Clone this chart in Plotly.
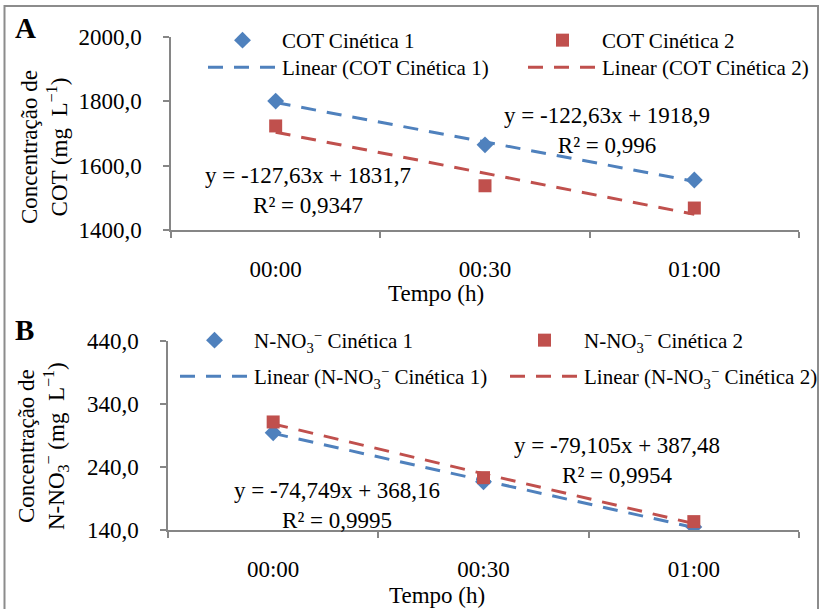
import plotly.graph_objects as go

# Sampling times (categories on the x axis)
tempos = ["00:00", "00:30", "01:00"]

# Panel A: total organic carbon (COT), mg L-1
cot_cin1 = [1800.8, 1664.7, 1555.5]
cot_cin2 = [1723.5, 1537.5, 1468.3]
# Linear trend y = a*x + b (x = 1, 2, 3) with R²
cot_fit1 = {"a": -122.63, "b": 1918.9, "r2": "0,996"}
cot_fit2 = {"a": -127.63, "b": 1831.7, "r2": "0,9347"}
cot_ticks = [1400, 1600, 1800, 2000]

# Panel B: nitrate nitrogen (N-NO3-), mg L-1
no3_cin1 = [294.4, 216.7, 144.9]
no3_cin2 = [311.5, 223.1, 153.3]
no3_fit1 = {"a": -74.749, "b": 368.16, "r2": "0,9995"}
no3_fit2 = {"a": -79.105, "b": 387.48, "r2": "0,9954"}
no3_ticks = [140, 240, 340, 440]

W, H = 820, 609
BLUE = "#4F81BD"
RED = "#C0504D"
AXIS = "#868686"
FONT = "Liberation Serif"
DASH = "15px,11px"


def px(x):
    return x / W


def py(y):
    return 1 - y / H


def trend(fit):
    return [fit["a"] * (i + 1) + fit["b"] for i in range(len(tempos))]


def fmt(v, nd):
    return f"{abs(v):.{nd}f}".replace(".", ",")


def eq_text(fit, nda, ndb):
    return (f"y = -{fmt(fit['a'], nda)}x + {fmt(fit['b'], ndb)}<br>"
            f"R² = {fit['r2']}")


fig = go.Figure()

NO3 = "N-NO<sub>3</sub><sup>−</sup>"

# Each legend entry gets its own legend box: (left x, top y) in pixels
panels = [
    dict(xa="x", ya="y", c1=cot_cin1, c2=cot_cin2, f1=cot_fit1, f2=cot_fit2,
         n1="COT Cinética 1", n2="COT Cinética 2",
         lg=dict(m1=("legend", 203, 20), m2=("legend2", 523, 20),
                 l1=("legend3", 203, 47), l2=("legend4", 523, 47))),
    dict(xa="x2", ya="y2", c1=no3_cin1, c2=no3_cin2, f1=no3_fit1, f2=no3_fit2,
         n1=f"{NO3} Cinética 1", n2=f"{NO3} Cinética 2",
         lg=dict(m1=("legend5", 175, 320), m2=("legend6", 505, 320),
                 l1=("legend7", 175, 356), l2=("legend8", 505, 356))),
]

# Trend lines first so the markers sit on top of them
for p in panels:
    for key, nm, col, lk in (("f1", "n1", BLUE, "l1"), ("f2", "n2", RED, "l2")):
        fig.add_trace(go.Scatter(
            x=tempos, y=trend(p[key]), mode="lines", name=f"Linear ({p[nm]})",
            line=dict(color=col, width=3, dash=DASH),
            xaxis=p["xa"], yaxis=p["ya"], legend=p["lg"][lk][0]))
for p in panels:
    fig.add_trace(go.Scatter(
        x=tempos, y=p["c1"], mode="markers", name=p["n1"],
        marker=dict(symbol="diamond", size=13, color=BLUE),
        xaxis=p["xa"], yaxis=p["ya"], legend=p["lg"]["m1"][0]))
    fig.add_trace(go.Scatter(
        x=tempos, y=p["c2"], mode="markers", name=p["n2"],
        marker=dict(symbol="square", size=13, color=RED),
        xaxis=p["xa"], yaxis=p["ya"], legend=p["lg"]["m2"][0]))

tickfont = dict(family=FONT, size=23, color="black")
xcommon = dict(type="category", range=[-0.5, 2.5], showline=True, linecolor=AXIS, linewidth=1.5,
               ticks="outside", tickson="boundaries", ticklen=6, tickcolor=AXIS, tickwidth=1.5,
               showgrid=False, zeroline=False, tickfont=tickfont, ticklabelstandoff=18,
               fixedrange=True, automargin=False)
ycommon = dict(showline=True, linecolor=AXIS, linewidth=1.5, ticks="outside", ticklen=6,
               tickcolor=AXIS, tickwidth=1.5, showgrid=False, zeroline=False,
               tickfont=tickfont, tickformat=".1f", ticklabelstandoff=17, fixedrange=True,
               automargin=False)

legend_common = dict(font=dict(family=FONT, size=21, color="black"), bgcolor="rgba(0,0,0,0)",
                     xref="paper", yref="paper", xanchor="left", yanchor="top",
                     itemwidth=69, itemclick=False, itemdoubleclick=False)

legends = {}
for p in panels:
    for name, lx, ly in p["lg"].values():
        legends[name] = dict(legend_common, x=px(lx), y=py(ly))

fig.update_layout(
    width=W, height=H, margin=dict(l=0, r=0, t=0, b=0, autoexpand=False),
    paper_bgcolor="white", plot_bgcolor="white",
    separators=",.",
    font=dict(family=FONT, size=23, color="black"),
    xaxis=dict(xcommon, domain=[px(171), px(799)], anchor="y"),
    yaxis=dict(ycommon, domain=[py(230), py(37)], range=[1400, 2000],
               tickvals=cot_ticks, anchor="x"),
    xaxis2=dict(xcommon, domain=[px(168), px(799)], anchor="y2"),
    yaxis2=dict(ycommon, domain=[py(530), py(341)], range=[140, 440],
                tickvals=no3_ticks, anchor="x2"),
    showlegend=True,
    **legends,
)

ann = []
# Panel letters
ann.append(dict(text="<b>A</b>", x=px(25), y=py(28), font=dict(size=29)))
ann.append(dict(text="<b>B</b>", x=px(24), y=py(330), font=dict(size=29)))
# Axis titles
ann.append(dict(text="Concentração de<br>COT (mg  L<sup>−1</sup>)", x=px(44), y=py(147),
                textangle=-90))
ann.append(dict(text=f"Concentração de<br>{NO3} (mg  L<sup>−1</sup>)", x=px(43), y=py(446),
                textangle=-90))
ann.append(dict(text="Tempo (h)", x=px(436), y=py(293)))
ann.append(dict(text="Tempo (h)", x=px(437), y=py(595)))
# Regression equations
ann.append(dict(text=eq_text(cot_fit1, 2, 1), x=px(607), y=py(131)))
ann.append(dict(text=eq_text(cot_fit2, 2, 1), x=px(308), y=py(190)))
ann.append(dict(text=eq_text(no3_fit1, 3, 2), x=px(337), y=py(505)))
ann.append(dict(text=eq_text(no3_fit2, 3, 2), x=px(617), y=py(460)))

for a in ann:
    a.setdefault("font", {})
    a["font"] = dict(dict(family=FONT, size=23, color="black"), **a["font"])
    fig.add_annotation(xref="paper", yref="paper", showarrow=False,
                       xanchor="center", yanchor="middle", align="center", **a)

# Frame around the figure
fig.add_shape(type="rect", xref="paper", yref="paper",
              x0=px(4.5), x1=px(818), y0=-0.05, y1=py(6),
              line=dict(color="#8c8c8c", width=2), fillcolor="rgba(0,0,0,0)")

fig.write_html("out.html")
